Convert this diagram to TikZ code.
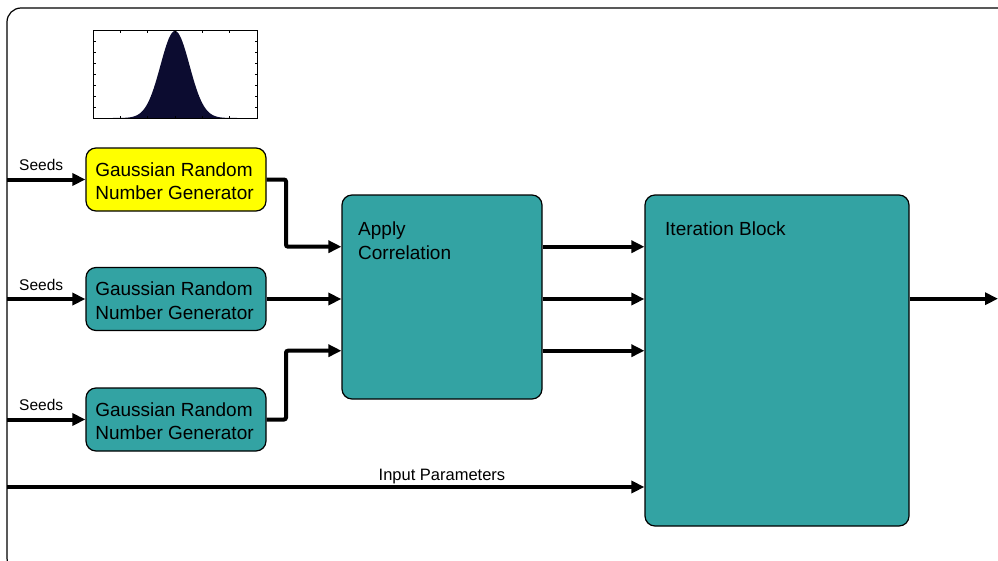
\documentclass[tikz,border=0pt]{standalone}
\usepackage{fontspec}
\setmainfont{Liberation Sans}
\usetikzlibrary{arrows.meta}
\definecolor{tealbox}{RGB}{51,163,163}
\definecolor{genyellow}{RGB}{255,255,0}
\definecolor{histfill}{RGB}{12,12,48}
\tikzset{
  block/.style={draw=black, line width=1.2pt, rounded corners=10pt, fill=tealbox, inner sep=0pt},
  boxtext/.style={font=\fontsize{19}{23.5}\selectfont, text=black, inner sep=0pt},
  gentext/.style={boxtext, align=left},
  smalllabel/.style={font=\fontsize{15.5}{18}\selectfont, inner sep=0pt, anchor=base west},
  arr/.style={line width=4pt, -{Triangle[length=13pt,width=12pt]}},
}
\begin{document}
\begin{tikzpicture}[x=1pt,y=-1pt]
\useasboundingbox (0,0) rectangle (998,560);
\clip (0,0) rectangle (998,560);

% outer frame
\draw[line width=1.2pt, rounded corners=14pt] (7,8) rectangle (1015,572);

% histogram of the generated samples
\fill[histfill] plot[domain=93:257, samples=160] (\x,{118-87*exp(-((\x-175)/14.5)^2/2)}) -- (257,118) -- (93,118) -- cycle;
\draw[line width=0.8pt] (93,30) rectangle (257,118);
\foreach \tx in {120.3,147.7,175,202.3,229.7}{
  \draw[line width=0.5pt] (\tx,118) -- (\tx,115.5);
  \draw[line width=0.5pt] (\tx,30) -- (\tx,32.5);
}
\foreach \ty in {41,52,63,74,85,96,107}{
  \draw[line width=0.5pt] (93,\ty) -- (95.5,\ty);
  \draw[line width=0.5pt] (257,\ty) -- (254.5,\ty);
}

% generators
\node[block, fill=genyellow, minimum width=180pt, minimum height=63pt] (g1) at (176,179.5) {};
\node[block, minimum width=180pt, minimum height=63pt] (g2) at (176,299) {};
\node[block, minimum width=180pt, minimum height=63pt] (g3) at (176,419.5) {};
\node[gentext] (g1t) at (174.5,181) {Gaussian Random\\Number Generator};
\node[gentext] (g2t) at (174.5,300.5) {Gaussian Random\\Number Generator};
\node[gentext] (g3t) at (174.5,421) {Gaussian Random\\Number Generator};

% correlation and iteration blocks
\node[block, minimum width=200pt, minimum height=204pt] (apply) at (442,297) {};
\node[boxtext, anchor=base west] (applyt1) at (358,235) {Apply};
\node[boxtext, anchor=base west] (applyt2) at (358,259) {Correlation};
\node[block, minimum width=264pt, minimum height=331pt] (iter) at (777,360.5) {};
\node[boxtext, anchor=base west] (itert) at (665,235) {Iteration Block};

% free ends and levels
\coordinate (s1) at (7,179.5);
\coordinate (s2) at (7,299);
\coordinate (s3) at (7,419.5);
\coordinate (ip) at (7,487);
\coordinate (out) at (998,298.7);
\coordinate (e1) at (286,179.5);
\coordinate (e3) at (286,419.5);
\coordinate (c1) at (0,246.7);
\coordinate (c2) at (0,299);
\coordinate (c3) at (0,350.7);

% seed inputs
\draw[arr] (s1) -- (g1.west);
\draw[arr] (s2) -- (g2.west);
\draw[arr] (s3) -- (g3.west);
\node[smalllabel] (seed1) at (19,170.5) {Seeds};
\node[smalllabel] (seed2) at (19,290) {Seeds};
\node[smalllabel] (seed3) at (19,410.5) {Seeds};

% generators into correlation
\draw[arr, rounded corners=2pt] (g1.east) -- (e1) |- (apply.west |- c1);
\draw[arr] (g2.east) -- (apply.west |- c2);
\draw[arr, rounded corners=2pt] (g3.east) -- (e3) |- (apply.west |- c3);

% correlated streams into iteration
\draw[arr] (apply.east |- c1) -- (iter.west |- c1);
\draw[arr] (apply.east |- c2) -- (iter.west |- c2);
\draw[arr] (apply.east |- c3) -- (iter.west |- c3);

% parameters and output
\draw[arr] (ip) -- (iter.west |- ip);
\node[smalllabel, font=\fontsize{16.5}{19}\selectfont] (iplabel) at (378.5,480) {Input Parameters};
\draw[arr] (iter.east |- out) -- (out);
\end{tikzpicture}
\end{document}
